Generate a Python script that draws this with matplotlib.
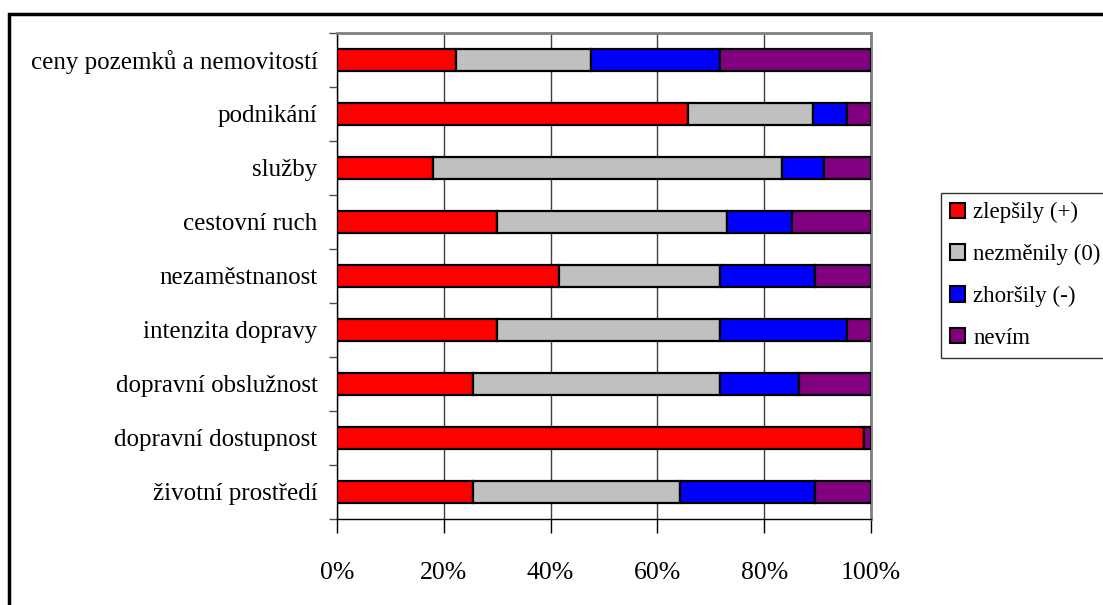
import matplotlib.pyplot as plt
import numpy as np
from matplotlib.patches import Rectangle

plt.rcParams['font.family'] = ['Liberation Serif', 'DejaVu Serif']

# Areas in chart order, top to bottom
categories = [
    'ceny pozemků a nemovitostí',
    'podnikání',
    'služby',
    'cestovní ruch',
    'nezaměstnanost',
    'intenzita dopravy',
    'dopravní obslužnost',
    'dopravní dostupnost',
    'životní prostředí',
]

# Share of answers (%) for each area
improved = [22.2, 65.7, 18.0, 30.0, 41.6, 30.0, 25.5, 98.6, 25.5]
unchanged = [25.4, 23.5, 65.3, 43.1, 30.1, 41.7, 46.2, 0.0, 38.7]
worse = [24.1, 6.3, 7.9, 12.1, 17.9, 23.8, 14.8, 0.0, 25.4]
dont_know = [28.3, 4.5, 8.8, 14.8, 10.4, 4.5, 13.5, 1.4, 10.4]

series_labels = ['zlepšily (+)', 'nezměnily (0)', 'zhoršily (-)', 'nevím']
series_colors = ['#FF0000', '#C0C0C0', '#0000FF', '#800080']
x_ticks = [0, 20, 40, 60, 80, 100]
x_tick_labels = ['0%', '20%', '40%', '60%', '80%', '100%']


def main():
    fig = plt.figure(figsize=(11.03, 6.05), dpi=100)
    ax = fig.add_axes([0.3055, 0.1422, 0.4842, 0.8033])

    y = np.arange(len(categories))
    left = np.zeros(len(categories))
    for values, label, color in zip(
        (improved, unchanged, worse, dont_know), series_labels, series_colors
    ):
        ax.barh(y, values, left=left, height=0.4, color=color,
                edgecolor='black', linewidth=1.6, label=label, zorder=3)
        left += np.array(values)

    ax.set_xlim(0, 100)
    ax.set_ylim(len(categories) - 0.5, -0.5)
    ax.set_xticks(x_ticks)
    ax.set_xticklabels(x_tick_labels, fontsize=18.5)
    ax.set_yticks(y)
    ax.set_yticklabels(categories, fontsize=18)
    ax.set_yticks(np.arange(len(categories) + 1) - 0.5, minor=True)

    ax.tick_params(axis='y', which='major', length=0, pad=14)
    ax.tick_params(axis='y', which='minor', length=6, width=1, color='#505050')
    ax.tick_params(axis='x', length=10, width=1, pad=21, direction='out')

    ax.xaxis.grid(True, color='#404040', linewidth=1, zorder=0)
    for side in ('top', 'right'):
        ax.spines[side].set_color('#808080')
        ax.spines[side].set_linewidth(2)
    for side in ('left', 'bottom'):
        ax.spines[side].set_color('black')
        ax.spines[side].set_linewidth(1)

    leg = fig.legend(loc='upper left', bbox_to_anchor=(941 / 1103, 1 - 193 / 605),
                     fontsize=16.5, frameon=True, fancybox=False,
                     handlelength=0.65, handleheight=0.65, handletextpad=0.35,
                     labelspacing=0.9, borderpad=0.4, borderaxespad=0)
    leg.get_frame().set_edgecolor('black')
    leg.get_frame().set_linewidth(1)
    for handle in leg.legend_handles:
        handle.set_linewidth(1.5)

    # chart area border
    fig.patches.append(Rectangle((9 / 1103, -0.1), 1.2, 1.1 - 14 / 605,
                                 transform=fig.transFigure, fill=False,
                                 edgecolor='black', linewidth=2.5,
                                 clip_on=False))

    fig.savefig('out.png', dpi=100)
    plt.close(fig)


if __name__ == '__main__':
    main()
